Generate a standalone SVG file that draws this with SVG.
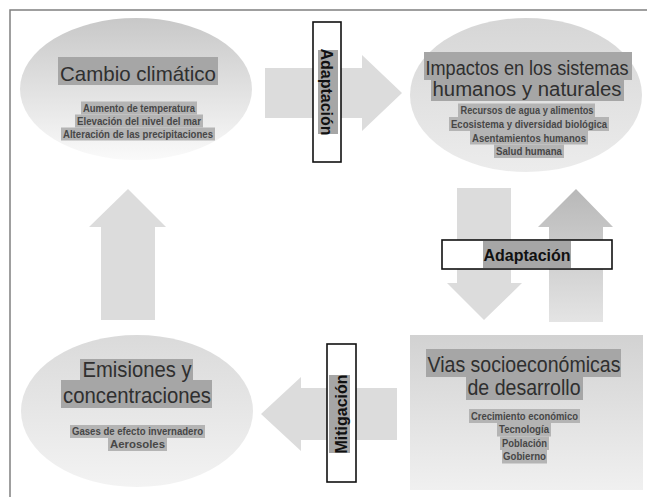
<svg xmlns="http://www.w3.org/2000/svg" width="647" height="497" viewBox="0 0 647 497">
<style>
.t{font-family:"Liberation Sans",Arial,sans-serif;font-size:21px;fill:#2f2f2f;text-anchor:middle}
.s{font-family:"Liberation Sans",Arial,sans-serif;font-size:11px;font-weight:bold;fill:#474747;text-anchor:middle}
.l{font-family:"Liberation Sans",Arial,sans-serif;font-size:16px;font-weight:bold;fill:#111;text-anchor:middle}
.hl{fill:#a6a6a6}
.hs{fill:#b4b4b4}
.arr{fill:#dcdcdc}
.box{fill:#fff;stroke:#111;stroke-width:1.6}
.frame{stroke:#808080;stroke-width:1.5;fill:none}
</style>
<defs>
<linearGradient id="g1" x1="0" y1="0" x2="0" y2="1"><stop offset="0" stop-color="#c8c8c8"/><stop offset="1" stop-color="#fafafa"/></linearGradient>
<linearGradient id="g2" x1="0" y1="0" x2="0" y2="1"><stop offset="0" stop-color="#d6d6d6"/><stop offset="1" stop-color="#ececec"/></linearGradient>
<linearGradient id="g3" x1="0" y1="0" x2="0" y2="1"><stop offset="0" stop-color="#dadada"/><stop offset="1" stop-color="#f3f3f3"/></linearGradient>
<linearGradient id="g4" x1="0" y1="0" x2="0" y2="1"><stop offset="0" stop-color="#d2d2d2"/><stop offset="1" stop-color="#f0f0f0"/></linearGradient>
<linearGradient id="g5" x1="0" y1="0" x2="0" y2="1"><stop offset="0" stop-color="#b8b8b8"/><stop offset="1" stop-color="#e4e4e4"/></linearGradient>
</defs>
<rect width="647" height="497" fill="#fff"/>
<path class="frame" d="M10,497 V10 H647"/>

<g id="cambio-climatico">
<ellipse cx="136" cy="89" rx="116" ry="71" fill="url(#g1)"/>
<rect class="hl" x="58" y="57" width="160" height="28"/>
<text class="t" x="138" y="81" textLength="156" lengthAdjust="spacingAndGlyphs">Cambio climático</text>
<rect class="hs" x="81" y="101.5" width="116" height="13"/>
<rect class="hs" x="75" y="114.5" width="128" height="13"/>
<rect class="hs" x="61" y="127.5" width="154" height="13"/>
<text class="s" x="139" y="112" textLength="112" lengthAdjust="spacingAndGlyphs">Aumento de temperatura</text>
<text class="s" x="139" y="125" textLength="124" lengthAdjust="spacingAndGlyphs">Elevación del nivel del mar</text>
<text class="s" x="138" y="138" textLength="150" lengthAdjust="spacingAndGlyphs">Alteración de las precipitaciones</text>
</g>

<g id="impactos">
<ellipse cx="526" cy="95" rx="116" ry="77" fill="url(#g2)"/>
<rect class="hl" x="424" y="52" width="208" height="28"/>
<rect class="hl" x="431" y="80" width="193" height="21"/>
<text class="t" x="527" y="75" textLength="203" lengthAdjust="spacingAndGlyphs" style="font-size:20px">Impactos en los sistemas</text>
<text class="t" x="527" y="96" textLength="189" lengthAdjust="spacingAndGlyphs" style="font-size:20px">humanos y naturales</text>
<rect class="hs" x="458" y="103.5" width="137" height="13.5"/>
<rect class="hs" x="449" y="117" width="160" height="14"/>
<rect class="hs" x="470" y="131" width="118" height="13.5"/>
<rect class="hs" x="494" y="144.5" width="70" height="13.5"/>
<text class="s" x="527" y="114" textLength="133" lengthAdjust="spacingAndGlyphs">Recursos de agua y alimentos</text>
<text class="s" x="529" y="128" textLength="156" lengthAdjust="spacingAndGlyphs">Ecosistema y diversidad biológica</text>
<text class="s" x="529" y="141.5" textLength="114" lengthAdjust="spacingAndGlyphs">Asentamientos humanos</text>
<text class="s" x="529" y="155" textLength="66" lengthAdjust="spacingAndGlyphs">Salud humana</text>
</g>

<g id="vias-socioeconomicas">
<rect x="410" y="335" width="233" height="155" fill="url(#g4)"/>
<rect class="hl" x="426" y="349" width="195" height="28"/>
<rect class="hl" x="466" y="377" width="117" height="23"/>
<text class="t" x="524" y="372" textLength="193" lengthAdjust="spacingAndGlyphs" style="font-size:21.5px">Vias socioeconómicas</text>
<text class="t" x="524" y="395" textLength="113" lengthAdjust="spacingAndGlyphs" style="font-size:21.5px">de desarrollo</text>
<rect class="hs" x="469" y="409" width="111" height="14"/>
<rect class="hs" x="497" y="423" width="54" height="13.5"/>
<rect class="hs" x="500" y="436.5" width="49" height="13.5"/>
<rect class="hs" x="502" y="450" width="45" height="13.5"/>
<text class="s" x="524.5" y="420" textLength="107" lengthAdjust="spacingAndGlyphs">Crecimiento económico</text>
<text class="s" x="524" y="433" textLength="50" lengthAdjust="spacingAndGlyphs">Tecnología</text>
<text class="s" x="524.5" y="447" textLength="45" lengthAdjust="spacingAndGlyphs">Población</text>
<text class="s" x="524.5" y="460" textLength="43" lengthAdjust="spacingAndGlyphs">Gobierno</text>
</g>

<g id="emisiones">
<ellipse cx="137" cy="411" rx="116" ry="76" fill="url(#g3)"/>
<rect class="hl" x="80" y="359" width="113" height="21"/>
<rect class="hl" x="61" y="380" width="151" height="28"/>
<text class="t" x="137" y="377" textLength="109" lengthAdjust="spacingAndGlyphs" style="font-size:22px">Emisiones y</text>
<text class="t" x="137" y="403" textLength="148" lengthAdjust="spacingAndGlyphs" style="font-size:22px">concentraciones</text>
<rect class="hs" x="70" y="425" width="135" height="13"/>
<rect class="hs" x="108" y="438" width="59" height="13"/>
<text class="s" x="137.5" y="435" textLength="131" lengthAdjust="spacingAndGlyphs">Gases de efecto invernadero</text>
<text class="s" x="137.5" y="448" textLength="55" lengthAdjust="spacingAndGlyphs">Aerosoles</text>
</g>

<g id="connectors">
<polygon class="arr" points="265,68 362,68 362,55 402,93 362,131 362,118 265,118"/>
<polygon class="arr" points="457,188 511,188 511,283 522,283 484,320 447,283 457,283"/>
<polygon points="576,189 613,227 603,227 603,322 549,322 549,227 538,227" fill="url(#g5)"/>
<polygon class="arr" points="261,414 301,377 301,388 397,388 397,440 301,440 301,451"/>
<polygon class="arr" points="128,189 166,227 155,227 155,320 101,320 101,227 89,227"/>
</g>

<g id="label-adaptacion-top">
<rect class="box" x="313" y="22" width="28" height="140"/>
<rect class="hl" x="318" y="50" width="20" height="84"/>
<text class="l" transform="translate(327,92) rotate(90)" x="0" y="6">Adaptación</text>
</g>

<g id="label-adaptacion-right">
<rect class="box" x="442" y="240" width="170" height="29"/>
<rect class="hl" x="483" y="241" width="88" height="27"/>
<text class="l" x="527" y="261">Adaptación</text>
</g>

<g id="label-mitigacion">
<rect class="box" x="327" y="344" width="29" height="138"/>
<rect class="hl" x="329" y="375" width="21" height="78"/>
<text class="l" transform="translate(341,414) rotate(-90)" x="0" y="6">Mitigación</text>
</g>
</svg>
